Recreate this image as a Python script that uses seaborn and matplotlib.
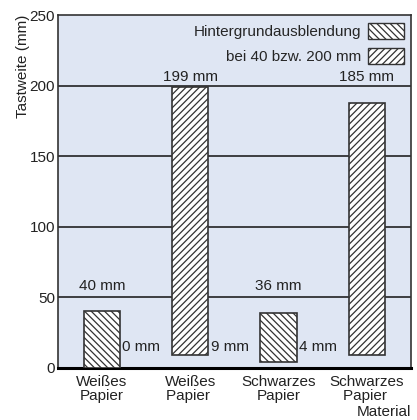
import matplotlib
matplotlib.use("Agg")
import matplotlib.pyplot as plt
from matplotlib.patches import Patch
import seaborn as sns
import pandas as pd

# Daten aus dem Diagramm
categories = ["Weißes\nPapier", "Weißes\nPapier ", "Schwarzes\nPapier", "Schwarzes\nPapier "]
bar_top = [40, 199, 39, 188]
bar_bottom = [0, 9, 4, 9]
top_labels = ["40 mm", "199 mm", "36 mm", "185 mm"]
bottom_labels = ["0 mm", "9 mm", "4 mm", ""]
hatches = ["\\\\\\\\\\", "/////", "\\\\\\\\\\", "/////"]
legend_labels = ["Hintergrundausblendung", "bei 40 bzw. 200 mm"]

sns.set_theme(style="white")
plt.rcParams["font.family"] = ["Liberation Sans", "DejaVu Sans"]
plt.rcParams["hatch.linewidth"] = 0.9
plt.rcParams["hatch.color"] = "#222222"

df = pd.DataFrame({"cat": categories, "top": bar_top})

fig = plt.figure(figsize=(4.17, 4.20), dpi=100)
ax = fig.add_axes([0.139, 0.124, 0.846, 0.84])
ax.set_facecolor("#dfe6f3")

sns.barplot(data=df, x="cat", y="top", width=0.41, color="white",
            edgecolor="#333333", linewidth=1.2, ax=ax, zorder=3)

# Balken schweben: untere Kante aus den Daten setzen
for p, b, t, h in zip(ax.patches, bar_bottom, bar_top, hatches):
    p.set_hatch(h)
    p.set_y(b)
    p.set_height(t - b)

for i, (t, lab) in enumerate(zip(bar_top, top_labels)):
    y = 58 if t < 100 else 206
    ax.text(i, y, lab, ha="center", va="center", fontsize=11, color="#222222")
for i, lab in enumerate(bottom_labels):
    ax.text(i + 0.23, 15, lab, ha="left", va="center", fontsize=11, color="#222222")

ax.set_ylim(0, 250)
ax.set_xlim(-0.5, 3.5)
ax.set_yticks([0, 50, 100, 150, 200, 250])
ax.tick_params(axis="y", length=0, labelsize=11, pad=2, colors="#222222")
ax.tick_params(axis="x", length=0, labelsize=11, pad=5, colors="#222222")
ax.set_xticks(range(4))
ax.set_xticklabels(categories, linespacing=1.05)
ax.set_xticks([0.5, 1.5, 2.5], minor=True)
ax.tick_params(axis="x", which="minor", direction="in", length=5, width=1, color="#444444")

for yv in [50, 100, 150, 200]:
    ax.axhline(yv, color="#111111", lw=1.1, zorder=1)

ax.set_ylabel("Tastweite (mm)", loc="top", fontsize=11, labelpad=0, color="#222222")
ax.set_xlabel("Material", loc="right", fontsize=11, labelpad=1, color="#222222")

for s in ["left", "top", "right"]:
    ax.spines[s].set_color("#333333")
    ax.spines[s].set_linewidth(1.2)
ax.spines["bottom"].set_color("#000000")
ax.spines["bottom"].set_linewidth(2.2)

handles = [Patch(facecolor="white", edgecolor="#333333", hatch=hatches[0], lw=1),
           Patch(facecolor="white", edgecolor="#333333", hatch=hatches[1], lw=1)]
ax.legend(handles, legend_labels, loc="upper right", frameon=False, markerfirst=False,
          fontsize=11, handlelength=2.3, handleheight=1.2, handletextpad=0.5,
          labelspacing=0.6, borderaxespad=0.0, bbox_to_anchor=(0.997, 0.995))

fig.savefig("out.png", dpi=100)
